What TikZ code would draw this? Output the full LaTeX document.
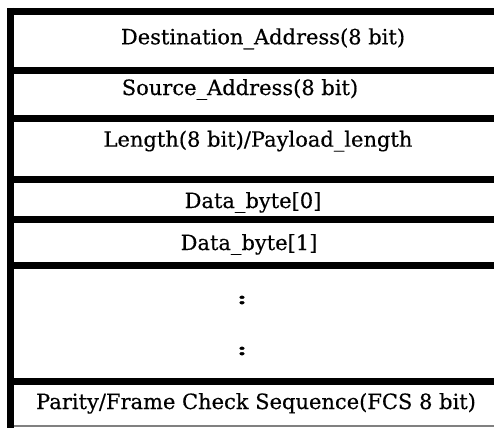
\documentclass[tikz,border=0pt]{standalone}
\usepackage{fontspec}
\setmainfont{DejaVu Serif}[FakeBold=0.4]
\begin{document}
\begin{tikzpicture}[x=1pt,y=-1pt,
  rule/.style={line width=7pt,black},
  field/.style={anchor=base,inner sep=0pt,font=\fontsize{21}{24}\selectfont,text=black},
  dots/.style={anchor=center,inner sep=0pt,font=\bfseries\fontsize{20}{24}\selectfont}]
\useasboundingbox (0,0) rectangle (494,428);
% frame: left edge, top edge and the row separators
\coordinate (tl) at (7,11.5);
\coordinate (tr) at (494,11.5);
\draw[rule] (10.5,8) -- (10.5,428);
\draw[rule] (tl) -- (tr);
\foreach \y in {70.5,118.5,179.5,219,265.5,381.5}
  \draw[rule] (14,\y) -- (494,\y);
\draw[gray,line width=1.2pt] (14,426) -- (494,426);
% field labels
\node[field] (dst)  at (263,44.3)  {Destination\_Address(8 bit)};
\node[field] (src)  at (240,95)    {Source\_Address(8 bit)};
\node[field] (len)  at (258,146.7) {Length(8 bit)/Payload\_length};
\node[field] (d0)   at (253,208)   {Data\_byte[0]};
\node[field] (d1)   at (249,250)   {Data\_byte[1]};
\node[dots]  (c1)   at (242,300)   {\scalebox{1.3}[0.85]{:}};
\node[dots]  (c2)   at (242,351)   {\scalebox{1.3}[0.85]{:}};
\node[field] (fcs)  at (256,409)   {Parity/Frame Check Sequence(FCS 8 bit)};
\end{tikzpicture}
\end{document}
